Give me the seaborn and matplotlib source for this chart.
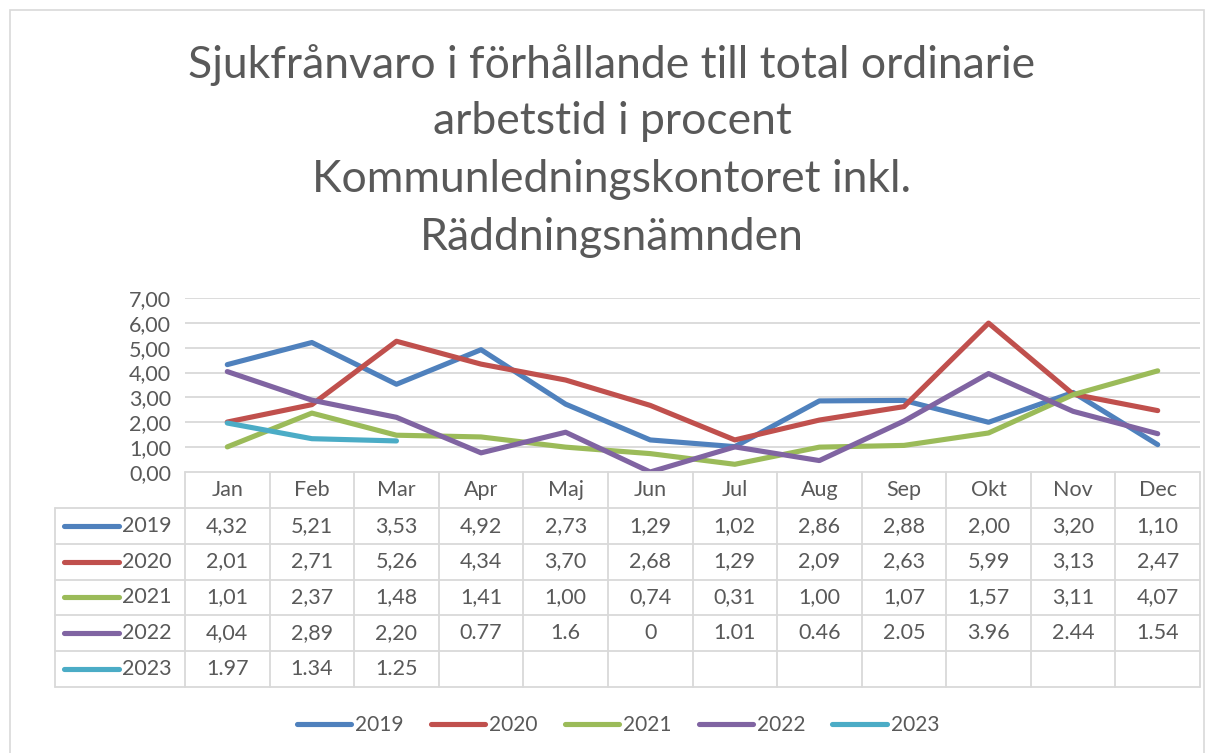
import numpy as np
import pandas as pd
import matplotlib
matplotlib.use("Agg")
import matplotlib.pyplot as plt
import seaborn as sns
from matplotlib.lines import Line2D
from matplotlib.patches import Rectangle

# data
months = ['Jan', 'Feb', 'Mar', 'Apr', 'Maj', 'Jun', 'Jul', 'Aug', 'Sep', 'Okt', 'Nov', 'Dec']
years = ['2019', '2020', '2021', '2022', '2023']
v2019 = [4.32, 5.21, 3.53, 4.92, 2.73, 1.29, 1.02, 2.86, 2.88, 2.00, 3.20, 1.10]
v2020 = [2.01, 2.71, 5.26, 4.34, 3.70, 2.68, 1.29, 2.09, 2.63, 5.99, 3.13, 2.47]
v2021 = [1.01, 2.37, 1.48, 1.41, 1.00, 0.74, 0.31, 1.00, 1.07, 1.57, 3.11, 4.07]
v2022 = [4.04, 2.89, 2.20, 0.77, 1.6, 0, 1.01, 0.46, 2.05, 3.96, 2.44, 1.54]
v2023 = [1.97, 1.34, 1.25]
# table cell texts as shown in the source (mixed decimal separators)
t2019 = ['4,32', '5,21', '3,53', '4,92', '2,73', '1,29', '1,02', '2,86', '2,88', '2,00', '3,20', '1,10']
t2020 = ['2,01', '2,71', '5,26', '4,34', '3,70', '2,68', '1,29', '2,09', '2,63', '5,99', '3,13', '2,47']
t2021 = ['1,01', '2,37', '1,48', '1,41', '1,00', '0,74', '0,31', '1,00', '1,07', '1,57', '3,11', '4,07']
t2022 = ['4,04', '2,89', '2,20', '0.77', '1.6', '0', '1.01', '0.46', '2.05', '3.96', '2.44', '1.54']
t2023 = ['1.97', '1.34', '1.25']
colors = ['#4F81BD', '#C0504D', '#9BBB59', '#8064A2', '#4BACC6']
title_lines = ['Sjukfrånvaro i förhållande till total ordinarie', 'arbetstid i procent',
               'Kommunledningskontoret inkl.', 'Räddningsnämnden']

series = [v2019, v2020, v2021, v2022, v2023]
texts = [t2019, t2020, t2021, t2022, t2023]

rows = []
for y, vals in zip(years, series):
    for i, v in enumerate(vals):
        rows.append({'month': i, 'year': y, 'value': v})
df = pd.DataFrame(rows)

sns.set_style('white')
plt.rcParams['font.family'] = ['Lato', 'DejaVu Sans']
gray = '#595959'
grid = '#D9D9D9'

W, H = 1215, 753
fig = plt.figure(figsize=(W / 100, H / 100), dpi=100)

# outer frame
fig.add_artist(Rectangle((10 / W, -0.05), (1204 - 10) / W, 1 - 10 / H + 0.05,
                         transform=fig.transFigure, fill=False, ec=grid, lw=1.2))

# title
for line, ypx in zip(title_lines, [65, 122, 180, 237]):
    fig.text(612 / W, 1 - ypx / H, line, ha='center', va='center', fontsize=32, color=gray)

# chart axes
x0, x1, ytop, ybot = 185, 1200, 298, 472
ax = fig.add_axes([x0 / W, 1 - ybot / H, (x1 - x0) / W, (ybot - ytop) / H])
sns.lineplot(data=df, x='month', y='value', hue='year', palette=colors, ax=ax,
             lw=3.7, legend=False, solid_capstyle='round', zorder=3)
ax.set_xlim(-0.5, 11.5)
ax.set_ylim(0, 7)
ax.set_yticks(range(8))
ax.set_yticklabels([f'{t:.2f}'.replace('.', ',') for t in range(8)], fontsize=15.5, color=gray)
ax.set_xticks([])
ax.set_xlabel('')
ax.set_ylabel('')
for s in ax.spines.values():
    s.set_visible(False)
ax.tick_params(axis='y', length=0, pad=10)
for t in range(1, 8):
    ax.axhline(t, color=grid, lw=1.3, zorder=1)
ax.patch.set_alpha(0)

# data table
colw = (x1 - x0) / 12
left = -0.5 - (x0 - 55) / colw
tb_top, tb_bot = 472, 687
axt = fig.add_axes([55 / W, 1 - tb_bot / H, (x1 - 55) / W, (tb_bot - tb_top) / H])
axt.set_xlim(left, 11.5)
axt.set_ylim(6, 0)
axt.axis('off')
lk = dict(color=grid, lw=1.3, clip_on=False)
axt.plot([-0.5, 11.5], [0, 0], **lk)
for r in range(1, 7):
    axt.plot([left, 11.5], [r, r], **lk)
for c in range(13):
    axt.plot([c - 0.5, c - 0.5], [0, 6], **lk)
axt.plot([left, left], [1, 6], **lk)
for i, m in enumerate(months):
    axt.text(i, 0.5, m, ha='center', va='center', fontsize=15.5, color=gray)
kx0 = -0.5 - (185 - 64) / colw
kx1 = -0.5 - (185 - 119) / colw
tx = -0.5 - (185 - 122) / colw
for r, (y, col, tt) in enumerate(zip(years, colors, texts), start=1):
    axt.plot([kx0, kx1], [r + 0.5, r + 0.5], color=col, lw=3.7, solid_capstyle='round')
    axt.text(tx, r + 0.5, y, ha='left', va='center', fontsize=15.5, color=gray)
    for i, s in enumerate(tt):
        axt.text(i, r + 0.5, s, ha='center', va='center', fontsize=15.5, color=gray)

# legend
handles = [Line2D([], [], color=c, lw=3.7, solid_capstyle='round') for c in colors]
fig.legend(handles, years, loc='center', bbox_to_anchor=(618 / W, 1 - 725 / H), ncol=5,
           frameon=False, fontsize=15, labelcolor=gray, handlelength=2.6,
           handletextpad=0.2, columnspacing=1.3)

fig.savefig('out.png', dpi=100)
